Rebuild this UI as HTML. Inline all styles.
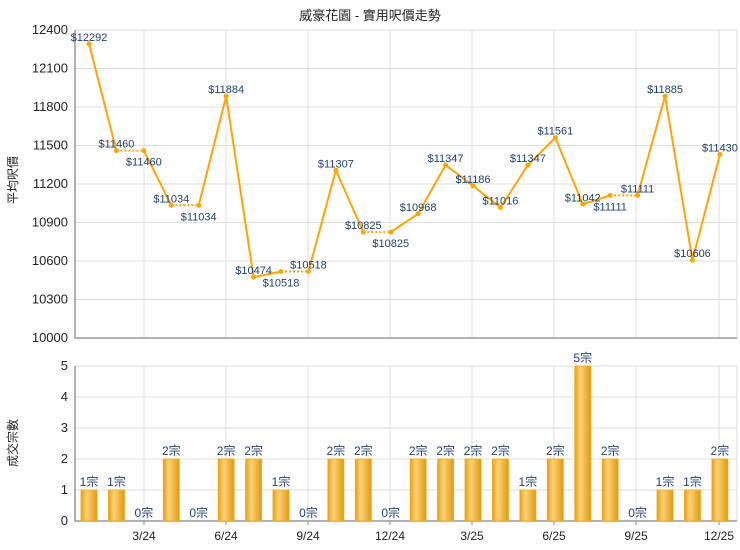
<!DOCTYPE html>
<html><head><meta charset="utf-8"><style>
html,body{margin:0;padding:0;background:#fff;width:740px;height:550px;overflow:hidden}
svg text{font-family:"Liberation Sans","Noto Sans CJK TC",sans-serif}
</style></head><body>
<svg id="s" width="740" height="550" xmlns="http://www.w3.org/2000/svg">
<defs><linearGradient id="g" x1="0" x2="1" y1="0" y2="0">
<stop offset="0" stop-color="#e8a010"/><stop offset="0.35" stop-color="#fcd27a"/><stop offset="1" stop-color="#e39a0a"/></linearGradient></defs>
</svg>
<script>
const s=document.getElementById('s');let h='';
const L=75,R=737,T1=30,B1=338,T2=366,B2=521;
const yv=v=>T1+(12400-v)/2400*(B1-T1), yc=c=>B2-c*(B2-T2)/5, xi=i=>89+i*27.43;
h+=`<text x="370" y="20" font-size="13" text-anchor="middle" fill="#222">威豪花園 - 實用呎價走勢</text>`;
const vx=[144,226,308,390,472,554,636,719],ml=['3/24','6/24','9/24','12/24','3/25','6/25','9/25','12/25'];
for(let v=10000;v<=12400;v+=300){const y=yv(v);h+=`<line x1="${L}" x2="${R}" y1="${y}" y2="${y}" stroke="#ddd"/><text x="68" y="${y+4}" font-size="13" text-anchor="end" fill="#222">${v}</text>`;}
for(let c=0;c<=5;c++){const y=yc(c);h+=`<line x1="${L}" x2="${R}" y1="${y}" y2="${y}" stroke="#ddd"/><text x="68" y="${y+4}" font-size="13" text-anchor="end" fill="#222">${c}</text>`;}
vx.forEach((x,i)=>{h+=`<line x1="${x}" x2="${x}" y1="${T1}" y2="${B1}" stroke="#ddd"/><line x1="${x}" x2="${x}" y1="${T2}" y2="${B2}" stroke="#ddd"/><line x1="${x}" x2="${x}" y1="${B2}" y2="${B2+4}" stroke="#888"/><text x="${x}" y="540" font-size="12" text-anchor="middle" fill="#222">${ml[i]}</text>`;});
h+=`<line x1="${R}" x2="${R}" y1="${T1}" y2="${B1}" stroke="#ddd"/><line x1="${R}" x2="${R}" y1="${T2}" y2="${B2}" stroke="#ddd"/>`;
h+=`<path d="M${L} ${T1}V${B1}H${R}M${L} ${T2}V${B2}H${R}" stroke="#999" stroke-width="1.5" fill="none"/>`;
h+=`<text transform="translate(17,180) rotate(-90)" font-size="12" text-anchor="middle" fill="#222">平均呎價</text>`;
h+=`<text transform="translate(17,443) rotate(-90)" font-size="12" text-anchor="middle" fill="#222">成交宗數</text>`;
const d=[12292,11460,11460,11034,11034,11884,10474,10518,10518,11307,10825,10825,10968,11347,11186,11016,11347,11561,11042,11111,11111,11885,10606,11430];
const c=[1,1,0,2,0,2,2,1,0,2,2,0,2,2,2,2,1,2,5,2,0,1,1,2];
c.forEach((n,i)=>{const x=xi(i);if(n>0)h+=`<rect x="${x-8}" y="${yc(n)}" width="16" height="${B2-yc(n)}" fill="url(#g)" stroke="#f0a818" stroke-width="0.8"/>`;h+=`<text x="${x}" y="${yc(n)-4}" font-size="12" text-anchor="middle" fill="#1f3f6f">${n}宗</text>`;});
for(let i=1;i<d.length;i++){const dot=c[i]==0;h+=`<line x1="${xi(i-1)}" y1="${yv(d[i-1])}" x2="${xi(i)}" y2="${yv(d[i])}" stroke="#ffa500" stroke-width="2" ${dot?'stroke-dasharray="2,2"':''}/>`;}
const below=[2,4,7,11,19];
d.forEach((v,i)=>{const x=xi(i),y=yv(v);h+=`<circle cx="${x}" cy="${y}" r="2.5" fill="#ffa500"/>`;const b=below.includes(i);h+=`<text x="${x}" y="${b?y+15:y-3}" font-size="11" text-anchor="middle" fill="#1f3f6f">$${v}</text>`;});
s.innerHTML+=h;
</script>
</body></html>
